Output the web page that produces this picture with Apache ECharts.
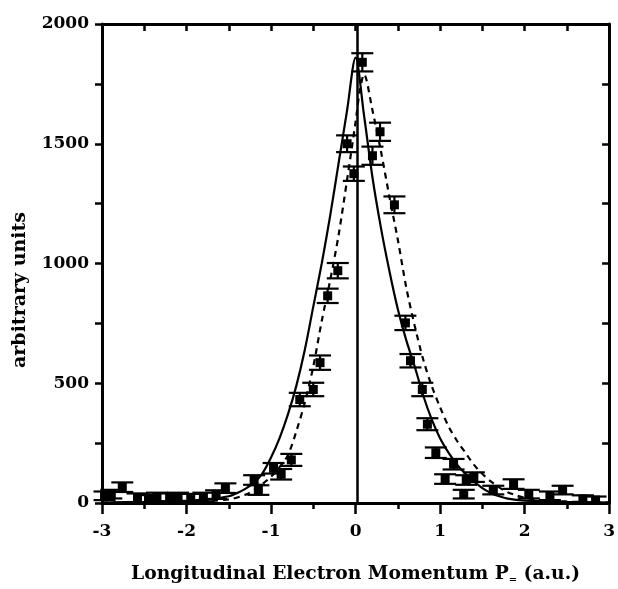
<!DOCTYPE html>
<html><head><meta charset="utf-8">
<script src="https://cdn.jsdelivr.net/npm/echarts@6/dist/echarts.min.js"></script>
<style>html,body{margin:0;padding:0;background:#fff}#c{width:618px;height:589px}</style>
</head><body><div id="c"></div>
<script>
// Solid theory curve
const solidX = [-3,-2.5,-2,-1.75,-1.5,-1.4,-1.3,-1.2,-1.1,-1.0,-0.9,-0.8,-0.7,-0.6,-0.5,-0.4,-0.3,-0.2,-0.1,0,0.1,0.2,0.3,0.4,0.5,0.6,0.7,0.8,0.9,1.0,1.1,1.2,1.3,1.4,1.5,1.6,1.7,1.8,2.0,2.5,3];
const solidY = [2,5,10,15,28,42,60,85,125,190,270,370,490,640,820,1000,1200,1420,1640,1860,1620,1360,1150,970,810,680,570,450,350,270,210,160,122,90,62,42,28,18,10,5,2];
// Dashed theory curve
const dashedX = [-3,-2.5,-2,-1.5,-1.3,-1.2,-1.1,-1.0,-0.9,-0.8,-0.7,-0.6,-0.5,-0.4,-0.3,-0.2,-0.1,0,0.05,0.1,0.2,0.3,0.4,0.5,0.6,0.7,0.8,0.9,1.0,1.1,1.2,1.3,1.4,1.5,1.6,1.7,1.8,1.9,2.0,2.2,2.5,3];
const dashedY = [1,3,5,15,35,55,80,110,150,200,300,420,570,760,930,1120,1350,1590,1720,1790,1640,1470,1280,1100,900,740,600,490,400,320,260,210,160,122,90,65,45,32,22,12,6,2];
// Measured points with error bars
const ptX = [0.08,0.29,-0.1,0.2,-0.02,0.46,-0.21,-0.33,-0.42,-0.5,-0.66,-0.76,-0.97,-0.88,-1.2,-1.15,-1.54,-1.65,-1.8,-1.95,-2.1,-2.2,-2.35,-2.45,-2.58,-2.76,-2.89,-2.97,0.59,0.65,0.79,0.85,0.95,1.16,1.06,1.31,1.28,1.4,1.63,1.87,2.05,2.3,2.45,2.69,2.84];
const ptY = [1840,1550,1500,1450,1375,1245,970,865,586,474,432,180,145,120,96,54,62,35,25,20,25,22,25,15,22,66,37,30,752,594,474,329,210,162,100,96,37,108,54,79,37,30,54,17,12];
const ptErr = [38,38,35,38,30,35,32,30,30,28,28,25,22,22,20,20,20,18,18,18,18,18,18,18,18,20,18,18,30,28,28,25,22,22,20,20,18,20,18,20,18,18,18,15,15];

const xTicks = [-3,-2,-1,0,1,2,3];
const yTicks = [0,500,1000,1500,2000];

const FONT = '"DejaVu Serif", "Liberation Serif", serif';
const chart = echarts.init(document.getElementById('c'));

const pts = ptX.map((x,i)=>[x, ptY[i], ptErr[i]]);

chart.setOption({
  animation:false,
  backgroundColor:'#fff',
  grid:{left:102,right:5,top:24,bottom:83},
  xAxis:[{
    type:'value',min:-3,max:3,interval:1,position:'bottom',
    axisLine:{onZero:false,lineStyle:{color:'#000',width:3}},
    axisTick:{show:true,inside:false,length:11,lineStyle:{color:'#000',width:2.5}},
    minorTick:{show:true,splitNumber:2,length:6,lineStyle:{color:'#000',width:2.5}},
    splitLine:{show:false},
    axisLabel:{color:'#000',fontFamily:FONT,fontWeight:'bold',fontSize:17,margin:20,
      formatter:v=>xTicks.includes(v)?String(v):''},
    name:'Longitudinal Electron Momentum P{s|=} (a.u.)',
    nameLocation:'middle',nameGap:61,
    nameTextStyle:{color:'#000',fontFamily:FONT,fontWeight:'bold',fontSize:18.7,
      rich:{s:{fontFamily:FONT,fontWeight:'bold',fontSize:10,color:'#000',padding:[10,0,0,0]}}}
  },{
    type:'value',min:-3,max:3,interval:0.5,position:'top',
    axisLine:{onZero:false,lineStyle:{color:'#000',width:3}},
    axisTick:{show:true,inside:true,length:7,lineStyle:{color:'#000',width:2.5}},
    axisLabel:{show:false},splitLine:{show:false}
  }],
  yAxis:[{
    type:'value',min:0,max:2000,interval:250,position:'left',
    axisLine:{onZero:false,lineStyle:{color:'#000',width:3}},
    axisTick:{show:true,inside:false,length:7,lineStyle:{color:'#000',width:2.5}},
    splitLine:{show:false},
    axisLabel:{color:'#000',fontFamily:FONT,fontWeight:'bold',fontSize:17,margin:13,
      formatter:v=>yTicks.includes(v)?String(v):''}
  },{
    type:'value',min:0,max:2000,interval:250,position:'right',
    axisLine:{onZero:false,lineStyle:{color:'#000',width:3}},
    axisTick:{show:true,inside:true,length:7,lineStyle:{color:'#000',width:2.5}},
    axisLabel:{show:false},splitLine:{show:false}
  }],
  graphic:[{
    type:'text',x:20,y:290,rotation:Math.PI/2,
    style:{text:'arbitrary units',fill:'#000',font:'bold 19px "DejaVu Serif", serif',
      align:'center',verticalAlign:'middle'}
  }],
  series:[{
    type:'line',xAxisIndex:0,yAxisIndex:0,showSymbol:false,smooth:0.3,
    data:solidX.map((x,i)=>[x,solidY[i]]),
    lineStyle:{color:'#000',width:2.2,type:'solid'},
    markLine:{silent:true,symbol:'none',label:{show:false},
      lineStyle:{color:'#000',width:2.5,type:'solid'},data:[{xAxis:0.02}]}
  },{
    type:'line',xAxisIndex:0,yAxisIndex:0,showSymbol:false,smooth:0.3,
    data:dashedX.map((x,i)=>[x,dashedY[i]]),
    lineStyle:{color:'#000',width:2.2,type:[6,5]}
  },{
    type:'custom',xAxisIndex:0,yAxisIndex:0,data:pts,
    renderItem:function(params,api){
      const x=api.value(0),y=api.value(1),e=api.value(2);
      const c=api.coord([x,y]);
      const t=api.coord([x,y+e]);
      const b=api.coord([x,Math.max(0,y-e)]);
      const hw=11, s=9;
      const st={stroke:'#000',lineWidth:2.2};
      return {type:'group',children:[
        {type:'line',shape:{x1:c[0],y1:t[1],x2:c[0],y2:b[1]},style:st},
        {type:'line',shape:{x1:c[0]-hw,y1:t[1],x2:c[0]+hw,y2:t[1]},style:st},
        {type:'line',shape:{x1:c[0]-hw,y1:b[1],x2:c[0]+hw,y2:b[1]},style:st},
        {type:'rect',shape:{x:c[0]-s/2,y:c[1]-s/2,width:s,height:s},style:{fill:'#000'}}
      ]};
    }
  }]
});
</script></body></html>
